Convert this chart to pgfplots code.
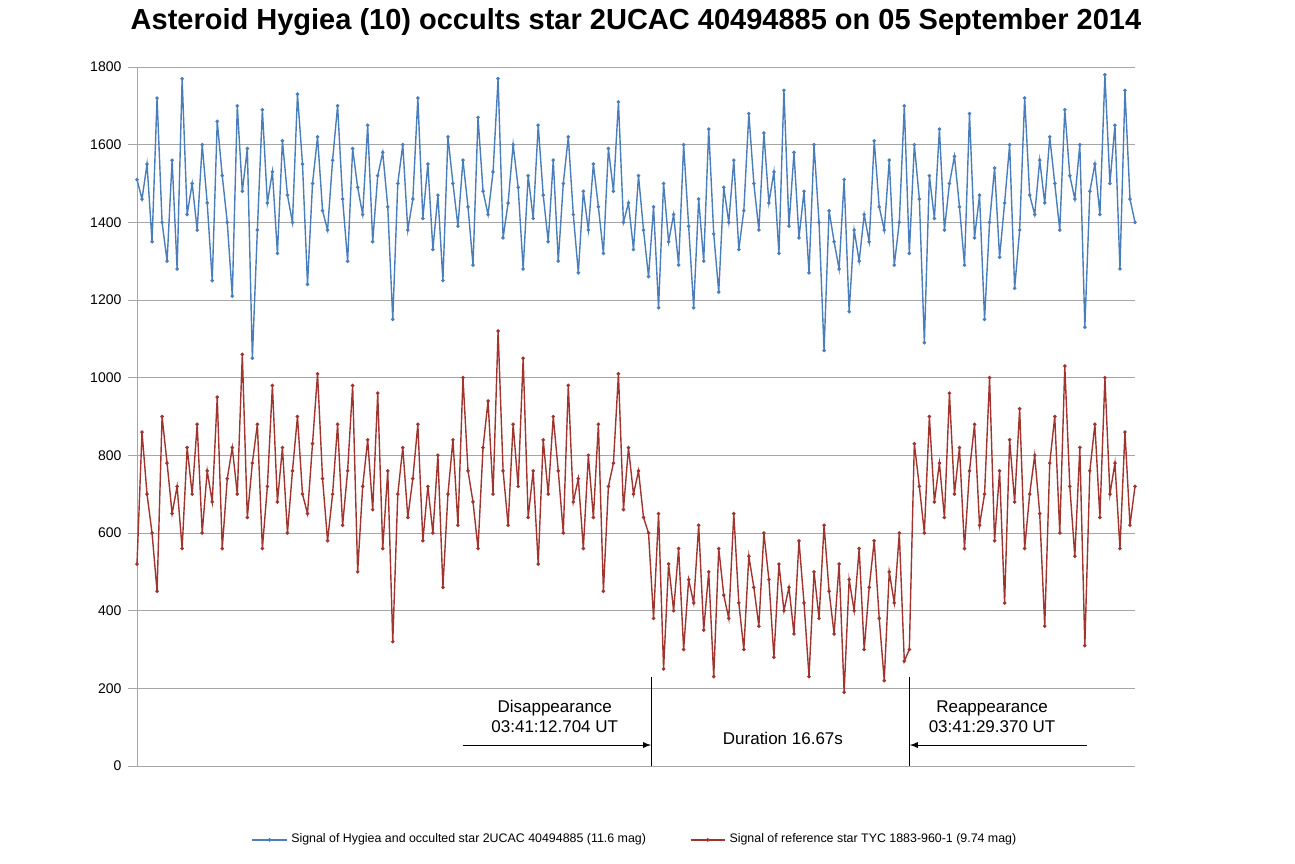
\documentclass[border=0pt]{standalone}
\usepackage{pgfplots}
\pgfplotsset{compat=1.18}
\usepackage{pgfplotstable}
\usepackage{fontspec}
\setmainfont{Liberation Sans}
\definecolor{cblue}{RGB}{74,126,187}
\definecolor{cred}{RGB}{160,52,47}
\pgfplotstableread{
y
1510
1460
1550
1350
1720
1400
1300
1560
1280
1770
1420
1500
1380
1600
1450
1250
1660
1520
1400
1210
1700
1480
1590
1050
1380
1690
1450
1530
1320
1610
1470
1400
1730
1550
1240
1500
1620
1430
1380
1560
1700
1460
1300
1590
1490
1420
1650
1350
1520
1580
1440
1150
1500
1600
1380
1460
1720
1410
1550
1330
1470
1250
1620
1500
1390
1560
1440
1290
1670
1480
1420
1530
1770
1360
1450
1600
1490
1280
1520
1410
1650
1470
1350
1560
1300
1500
1620
1420
1270
1480
1380
1550
1440
1320
1590
1480
1710
1400
1450
1330
1520
1380
1260
1440
1180
1500
1350
1420
1290
1600
1390
1180
1460
1300
1640
1370
1220
1490
1400
1560
1330
1430
1680
1500
1380
1630
1450
1530
1320
1740
1390
1580
1360
1480
1270
1600
1400
1070
1430
1350
1280
1510
1170
1380
1300
1420
1350
1610
1440
1380
1560
1290
1400
1700
1320
1600
1460
1090
1520
1410
1640
1380
1500
1570
1440
1290
1680
1360
1470
1150
1400
1540
1310
1450
1600
1230
1380
1720
1470
1420
1560
1450
1620
1500
1380
1690
1520
1460
1600
1130
1480
1550
1420
1780
1500
1650
1280
1740
1460
1400
}\blue
\pgfplotstableread{
y
520
860
700
600
450
900
780
650
720
560
820
700
880
600
760
680
950
560
740
820
700
1060
640
780
880
560
720
980
680
820
600
760
900
700
650
830
1010
740
580
700
880
620
760
980
500
720
840
660
960
560
760
320
700
820
640
740
880
580
720
600
800
460
700
840
620
1000
760
680
560
820
940
700
1120
760
620
880
720
1050
640
760
520
840
700
900
760
600
980
680
740
560
800
640
880
450
720
780
1010
660
820
700
760
640
600
380
650
250
520
400
560
300
480
420
620
350
500
230
560
440
380
650
420
300
540
460
360
600
480
280
520
400
460
340
580
420
230
500
380
620
450
340
520
190
480
400
560
300
460
580
380
220
500
420
600
270
300
830
720
600
900
680
780
640
960
700
820
560
760
880
620
700
1000
580
760
420
840
680
920
560
700
800
650
360
780
900
600
1030
720
540
820
310
760
880
640
1000
700
780
560
860
620
720
}\red
\begin{document}
\begin{tikzpicture}[x=1pt,y=1pt]
\begin{axis}[
  scale only axis, width=499pt, height=349.5pt,
  xmin=0, xmax=199, ymin=0, ymax=1800,
  ytick={0,200,...,1800}, xtick=\empty,
  ymajorgrids, grid style={gray!70},
  axis x line*=bottom, axis y line*=left,
  axis line style={gray!70},
  y tick style={gray!70}, tick align=outside,
  tick label style={font=\fontsize{7}{8}\selectfont},
  /pgf/number format/assume math mode=true,
  /pgf/number format/1000 sep={},
  title={\fontsize{14.5}{16}\selectfont\bfseries Asteroid Hygiea (10) occults star 2UCAC 40494885 on 05 September 2014},
  title style={yshift=6pt},
  legend style={at={(0.5,-0.085)},anchor=north,draw=none,legend columns=2,
    font=\fontsize{6.2}{7}\selectfont,/tikz/every even column/.style={column sep=20pt}},
  clip=false,
]
\addplot[cblue, line width=0.7pt, mark=*, mark size=0.5pt] table[x expr=\coordindex, y=y]{\blue};
\addlegendentry{Signal of Hygiea and occulted star 2UCAC 40494885 (11.6 mag)}
\addplot[cred, line width=0.7pt, mark=*, mark size=0.5pt] table[x expr=\coordindex, y=y]{\red};
\addlegendentry{Signal of reference star TYC 1883-960-1 (9.74 mag)}
\draw[black] (axis cs:102.5,0) -- (axis cs:102.5,230);
\draw[black] (axis cs:154.1,0) -- (axis cs:154.1,230);
\draw[-latex,black] (axis cs:65,54) -- (axis cs:102.5,54);
\draw[-latex,black] (axis cs:189.4,54) -- (axis cs:154.1,54);
\node[font=\fontsize{8.5}{10}\selectfont,align=center,fill=white,inner sep=1pt] at (axis cs:83.3,128) {Disappearance\\03:41:12.704 UT};
\node[font=\fontsize{8.5}{10}\selectfont,align=center,fill=white,inner sep=1pt] at (axis cs:170.5,128) {Reappearance\\03:41:29.370 UT};
\node[font=\fontsize{8.5}{10}\selectfont] at (axis cs:128.8,72) {Duration 16.67s};
\path (rel axis cs:0,0) ++(-68.5pt,-48.5pt) coordinate (bl);
\path (rel axis cs:1,1) ++(80pt,33.5pt) coordinate (tr);
\path[use as bounding box] (bl) rectangle (tr);
\end{axis}
\end{tikzpicture}
\end{document}
